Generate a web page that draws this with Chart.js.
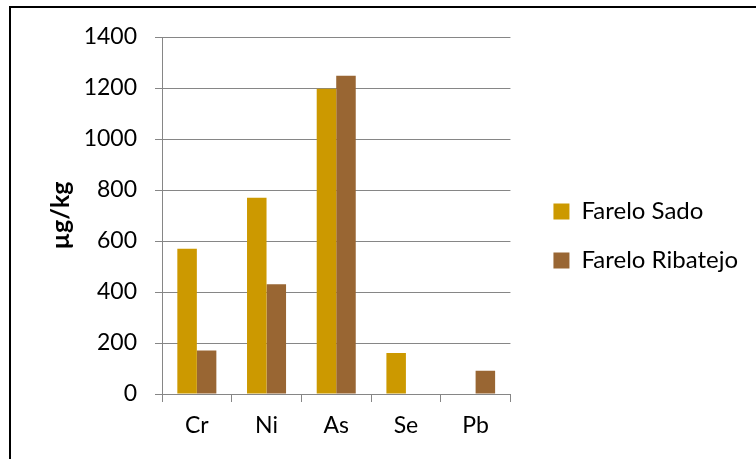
<!DOCTYPE html>
<html>
<head>
<meta charset="utf-8">
<script src="https://cdn.jsdelivr.net/npm/chart.js@4/dist/chart.umd.min.js"></script>
<style>
  html, body { margin: 0; padding: 0; background: #fff; }
  #wrap { position: relative; width: 756px; height: 459px; overflow: hidden; }
  #frame { position: absolute; left: 9px; top: 6px; right: -10px; bottom: -10px;
           border-top: 2px solid #000; border-left: 2px solid #000; pointer-events: none; }
  canvas { position: absolute; left: 0; top: 0; }
</style>
</head>
<body>
<div id="wrap">
  <canvas id="chart" width="756" height="459"></canvas>
  <div id="frame"></div>
</div>
<script>
// Elements measured in the bran samples
const elements = ['Cr', 'Ni', 'As', 'Se', 'Pb'];
// Concentrations in µg/kg
const fareloSado = [570, 770, 1197, 161, 0];
const fareloRibatejo = [171, 430, 1248, 0, 91];
const yTicks = [0, 200, 400, 600, 800, 1000, 1200, 1400];

const FONT = 'Lato, "Liberation Sans", sans-serif';

// Nudges the legend block away from the plot area and lets it run to the canvas edge
const legendGap = {
  id: 'legendGap',
  afterLayout(chart, args, opts) {
    const lg = chart.legend;
    if (!lg) return;
    lg.left += opts.dx || 0;
    lg.right = chart.width;
    lg.width = lg.right - lg.left;
    lg.top += opts.dy || 0;
    lg.bottom += opts.dy || 0;
  }
};

function draw() {
  new Chart(document.getElementById('chart'), {
    type: 'bar',
    plugins: [legendGap],
    data: {
      labels: elements,
      datasets: [
        { label: 'Farelo Sado', data: fareloSado, backgroundColor: '#CC9900' },
        { label: 'Farelo Ribatejo', data: fareloRibatejo, backgroundColor: '#996633' }
      ]
    },
    options: {
      responsive: false,
      animation: false,
      devicePixelRatio: 1,
      categoryPercentage: 0.56,
      barPercentage: 1.0,
      layout: { padding: { left: 46, right: 26, top: 37, bottom: 10 } },
      plugins: {
        tooltip: { enabled: false },
        legendGap: { dx: 18, dy: -7 },
        legend: {
          position: 'right',
          align: 'center',
          maxWidth: 244,
          labels: {
            color: '#000',
            font: { family: FONT, size: 24 },
            boxWidth: 16,
            boxHeight: 16,
            padding: 25
          }
        }
      },
      scales: {
        x: {
          offset: true,
          afterFit: (scale) => { scale.height = 55; scale.paddingLeft = 0; scale.paddingRight = 0; },
          grid: { drawOnChartArea: false, drawTicks: true, tickLength: 8, offset: true, color: '#868686', lineWidth: 1 },
          border: { color: '#868686', width: 1 },
          ticks: { color: '#000', font: { family: FONT, size: 23 }, padding: 10 }
        },
        y: {
          min: 0,
          max: 1400,
          afterBuildTicks: (scale) => { scale.ticks = yTicks.map(v => ({ value: v })); },
          afterFit: (scale) => { scale.width = 116; scale.paddingTop = 0; scale.paddingBottom = 0; },
          grid: { color: '#868686', lineWidth: 1, tickLength: 7 },
          border: { color: '#868686', width: 1 },
          ticks: { color: '#000', font: { family: FONT, size: 23 }, padding: 18, callback: (v) => String(v) },
          title: {
            display: true,
            text: 'µg/kg',
            color: '#000',
            font: { family: FONT, size: 25, weight: 'bold' },
            padding: { top: 0, bottom: 0 }
          }
        }
      }
    }
  });
}

Promise.all([
  document.fonts.load('24px Lato'),
  document.fonts.load('bold 25px Lato')
]).then(draw, draw);
</script>
</body>
</html>
